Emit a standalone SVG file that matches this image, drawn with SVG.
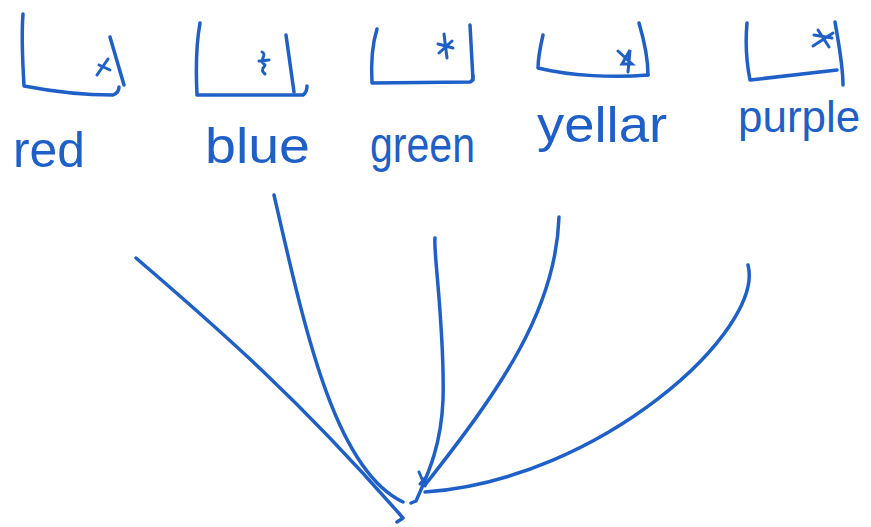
<svg xmlns="http://www.w3.org/2000/svg" width="871" height="527" viewBox="0 0 871 527">
<style>
.s{fill:none;stroke:#1f5fc8;stroke-width:3.5;stroke-linecap:round;stroke-linejoin:round}
.m{fill:none;stroke:#1f5fc8;stroke-width:3;stroke-linecap:round}
.t{fill:#1f5fc8;font-family:"Liberation Sans",Arial,sans-serif;font-size:50px}
</style>
<rect width="871" height="527" fill="#fff"/>
<g id="red">
<path class="s" d="M23,14 C21,40 23,65 24,86 C55,92 90,95 113,95 C118,93 119,90 119,87"/>
<path class="s" d="M110,37 L124,85"/>
<path class="m" d="M97,75 L108,59 M99,65 L110,70"/>
<text class="t" x="13" y="167" textLength="72" lengthAdjust="spacingAndGlyphs">red</text>
</g>
<g id="blue">
<path class="s" d="M200,23 C196,45 196,75 197,95 L303,95 C306,93 307,90 307,86"/>
<path class="s" d="M286,35 L294,92"/>
<path class="m" d="M262,52 C268,55 258,60 264,64 C268,66 258,68 265,74 M259,61 L269,60"/>
<text class="t" x="205" y="163" textLength="105" lengthAdjust="spacingAndGlyphs">blue</text>
</g>
<g id="green">
<path class="s" d="M377,29 C372,45 371,65 372,83 L470,82 C473,81 473,78 473,76"/>
<path class="s" d="M470,25 L473,80"/>
<path class="m" d="M444,34 L447,58 M438,44 L453,48 M439,53 L452,41"/>
<text class="t" x="370" y="162" textLength="105" lengthAdjust="spacingAndGlyphs">green</text>
</g>
<g id="yellow">
<path class="s" d="M543,35 C540,48 538,58 538,68 C570,76 615,78 648,75"/>
<path class="s" d="M639,23 C644,40 648,60 648,75"/>
<path class="m" d="M618,51 L632,64 L622,64 L630,50 L628,72"/>
<text class="t" x="537" y="142" textLength="130" lengthAdjust="spacingAndGlyphs">yellar</text>
</g>
<g id="purple">
<path class="s" d="M747,23 C745,45 747,65 750,80 L837,70"/>
<path class="s" d="M835,22 C838,40 843,65 843,85"/>
<path class="m" d="M818,30 L829,47 M813,46 L833,33 M814,35 L832,38"/>
<text class="t" x="738" y="132" style="font-size:44px">purple</text>
</g>
<g id="connectors">
<path class="s" d="M136,258 C220,330 300,400 403,518 L397,522"/>
<path class="s" d="M274,195 C305,330 335,470 403,502"/>
<path class="s" d="M435,238 C433,250 445,330 443,400 C441,450 425,480 416,501 L411,503"/>
<path class="s" d="M559,217 C556,310 500,390 425,485"/>
<path class="s" d="M748,265 C765,330 600,480 425,492"/>
<path class="m" d="M419,472 L425,486 M425,478 L420,484"/>
</g>
</svg>
